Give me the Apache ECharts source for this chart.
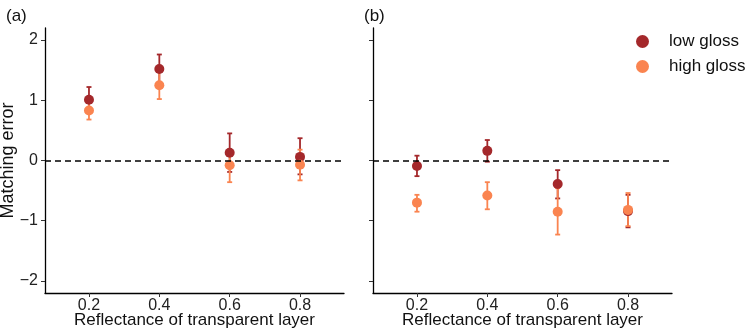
<!DOCTYPE html>
<html>
<head>
<meta charset="utf-8">
<script src="https://cdn.jsdelivr.net/npm/echarts@6/dist/echarts.min.js"></script>
<style>
  html, body { margin: 0; padding: 0; background: #fff; }
  #chart { width: 750px; height: 332px; }
</style>
</head>
<body>
<div id="chart"></div>
<script>
// data
const categories = [0.2, 0.4, 0.6, 0.8];
const yTicks = [-2, -1, 0, 1, 2];

// panel (a)
const aLowMean = [1.01, 1.52, 0.13, 0.06];
const aLowUpper = [1.22, 1.76, 0.45, 0.37];
const aLowLower = [0.80, 1.28, -0.19, -0.23];
const aHighMean = [0.83, 1.25, -0.08, -0.07];
const aHighUpper = [0.98, 1.48, 0.18, 0.18];
const aHighLower = [0.68, 1.02, -0.36, -0.33];

// panel (b)
const bLowMean = [-0.09, 0.16, -0.39, -0.84];
const bLowUpper = [0.08, 0.34, -0.16, -0.57];
const bLowLower = [-0.26, -0.02, -0.63, -1.11];
const bHighMean = [-0.70, -0.58, -0.85, -0.82];
const bHighUpper = [-0.57, -0.36, -0.46, -0.54];
const bHighLower = [-0.85, -0.81, -1.23, -1.09];

window.onload = () => {
    let chart = echarts.init(document.getElementById('chart'));
    const FONT = 'Liberation Sans';
    const LOW = '#a4282b';
    const HIGH = '#fa8450';

    function points(mean) {
        return categories.map((c, i) => [c, mean[i]]);
    }
    function bars(lower, upper) {
        return categories.map((c, i) => [c, lower[i], upper[i]]);
    }
    function errorSeries(idx, data, color) {
        return {
            type: 'custom',
            xAxisIndex: idx, yAxisIndex: idx,
            data: data,
            z: 2,
            renderItem: (params, api) => {
                let lo = api.coord([api.value(0), api.value(1)]);
                let hi = api.coord([api.value(0), api.value(2)]);
                let w = 2.5;
                let style = { stroke: color, lineWidth: 1.8 };
                return {
                    type: 'group',
                    children: [
                        { type: 'line', shape: { x1: lo[0], y1: lo[1], x2: hi[0], y2: hi[1] }, style: style },
                        { type: 'line', shape: { x1: lo[0] - w, y1: lo[1], x2: lo[0] + w, y2: lo[1] }, style: style },
                        { type: 'line', shape: { x1: hi[0] - w, y1: hi[1], x2: hi[0] + w, y2: hi[1] }, style: style }
                    ]
                };
            }
        };
    }
    function dotSeries(idx, name, data, color) {
        return {
            type: 'scatter', name: name,
            xAxisIndex: idx, yAxisIndex: idx,
            data: data, symbolSize: 10, z: 3,
            itemStyle: { color: color, opacity: 1 }
        };
    }
    function xAxis(idx) {
        return {
            type: 'value', gridIndex: idx, min: 0.075, max: 0.925,
            name: 'Reflectance of transparent layer', nameLocation: 'middle', nameGap: 19,
            nameMoveOverlap: false,
            nameTextStyle: { fontFamily: FONT, fontSize: 17, color: '#111' },
            axisLine: { onZero: false, lineStyle: { color: '#000', width: 1.3 } },
            axisTick: { show: true, length: 4, customValues: categories, lineStyle: { color: '#333' } },
            axisLabel: { customValues: categories, margin: 5, fontFamily: FONT, fontSize: 16, color: '#222',
                formatter: v => v.toFixed(1) },
            splitLine: { show: false }
        };
    }
    function yAxis(idx, showLabels) {
        return {
            type: 'value', gridIndex: idx, min: -2.2, max: 2.2,
            name: showLabels ? 'Matching error' : '', nameLocation: 'middle', nameGap: 28,
            nameMoveOverlap: false,
            nameTextStyle: { fontFamily: FONT, fontSize: 18, color: '#111' },
            axisLine: { show: true, onZero: false, lineStyle: { color: '#000', width: 1.3 } },
            axisTick: { show: true, length: 4, customValues: yTicks, lineStyle: { color: '#333' } },
            axisLabel: { show: showLabels, customValues: yTicks, margin: 7, fontFamily: FONT, fontSize: 16, color: '#222',
                formatter: v => (v < 0 ? '\u2212' + Math.abs(v) : String(v)) },
            splitLine: { show: false }
        };
    }
    function zeroLine(idx) {
        return {
            type: 'line', xAxisIndex: idx, yAxisIndex: idx, data: [], z: 1,
            markLine: {
                silent: true, symbol: 'none', label: { show: false },
                lineStyle: { color: '#000', type: [6, 4], width: 1.5 },
                data: [{ yAxis: 0 }]
            }
        };
    }

    let option = {
        animation: false,
        backgroundColor: '#fff',
        title: [
            { text: '(a)', left: 1, top: 3, textStyle: { fontFamily: FONT, fontSize: 17, fontWeight: 'normal', color: '#111' } },
            { text: '(b)', left: 359, top: 3, textStyle: { fontFamily: FONT, fontSize: 17, fontWeight: 'normal', color: '#111' } }
        ],
        legend: {
            orient: 'vertical', left: 631, top: 28, itemGap: 8,
            icon: 'circle', itemWidth: 13, itemHeight: 13,
            data: ['low gloss', 'high gloss'],
            textStyle: { fontFamily: FONT, fontSize: 17, color: '#111', padding: [0, 0, 0, 15] }
        },
        grid: [
            { left: 45, top: 28, width: 299, height: 265, outerBoundsMode: 'none' },
            { left: 373, top: 28, width: 299, height: 265, outerBoundsMode: 'none' }
        ],
        xAxis: [xAxis(0), xAxis(1)],
        yAxis: [yAxis(0, true), yAxis(1, false)],
        series: [
            zeroLine(0), zeroLine(1),
            errorSeries(0, bars(aLowLower, aLowUpper), LOW),
            dotSeries(0, 'low gloss', points(aLowMean), LOW),
            errorSeries(0, bars(aHighLower, aHighUpper), HIGH),
            dotSeries(0, 'high gloss', points(aHighMean), HIGH),
            errorSeries(1, bars(bLowLower, bLowUpper), LOW),
            dotSeries(1, 'low gloss', points(bLowMean), LOW),
            errorSeries(1, bars(bHighLower, bHighUpper), HIGH),
            dotSeries(1, 'high gloss', points(bHighMean), HIGH)
        ]
    };
    chart.setOption(option);
};
</script>
</body>
</html>
